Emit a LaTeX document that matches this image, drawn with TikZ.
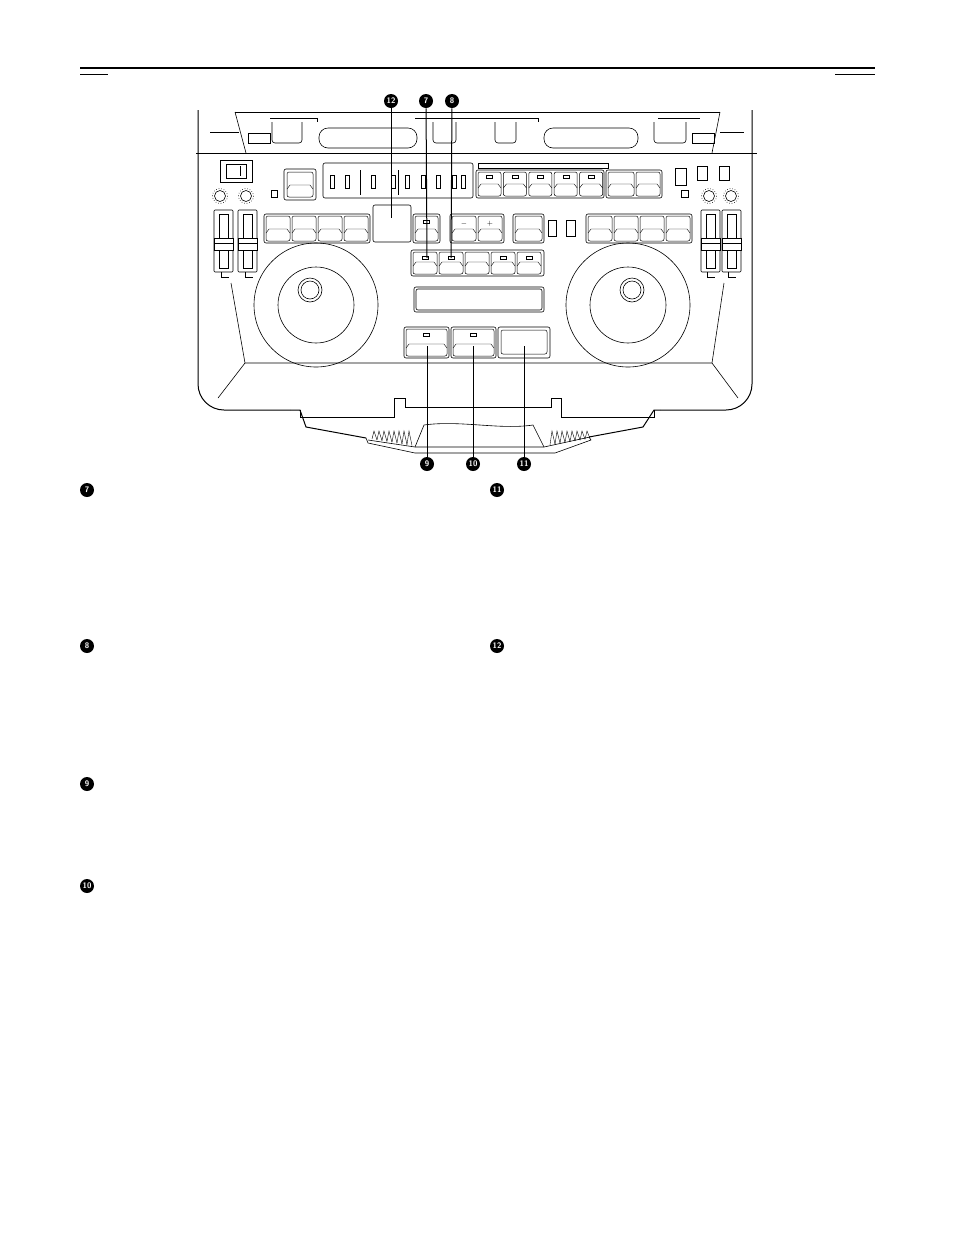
\documentclass[tikz,border=0pt]{standalone}
\usepackage{tikz}
\usetikzlibrary{positioning}
\tikzset{>=latex}
\tikzset{
  num/.style={circle,fill=black,text=white,inner sep=0pt,minimum size=14pt,font=\sffamily\bfseries\footnotesize},
  frame/.style={draw,rounded corners=2pt,line width=0.6pt},
  keycap/.style={draw,rounded corners=2pt,line width=0.5pt},
  led/.style={draw,line width=0.4pt},
  lead/.style={line width=1pt}
}
\newcommand{\keyat}[4]{% x1,y1,x2,y2
  \draw[keycap] (#1,#2) rectangle (#3,#4);
  \draw[line width=0.4pt] (#1,#4-8) -- (#1+3,#4-12) -- (#3-3,#4-12) -- (#3,#4-8);}
\newcommand{\ledat}[2]{\draw[led] (#1-3,#2-1.5) rectangle (#1+3,#2+1.5);}
\begin{document}
\begin{tikzpicture}[x=1pt,y=-1pt,line width=0.6pt]
  \useasboundingbox (0,0) rectangle (954,1235);
  % header rules
  \draw[line width=1.6pt] (80,68) -- (875,68);
  \draw (80,74) -- (108,74);
  \draw (835,74) -- (875,74);

  % case outline
  \draw[line width=1pt,rounded corners=26pt] (198,110) -- (198,410) -- (290,410);
  \draw[line width=1pt] (290,410) -- (300,410) -- (306,427) -- (366,438);
  \draw[line width=1pt,rounded corners=26pt] (752,110) -- (752,410) -- (660,410);
  \draw[line width=1pt] (660,410) -- (654,410) -- (643,427) -- (589,437);
  \draw (300,410) -- (300,417) -- (394,417) -- (394,398) -- (405,398) -- (405,407)
     -- (551,407) -- (551,398) -- (561,398) -- (561,417) -- (654,417) -- (654,410);
  % base plate
  \draw (366,438) -- (368,443) -- (415,453) -- (555,453) -- (591,440) -- (589,437);
  \draw (415,447) -- (424,425) .. controls (460,420) and (500,430) .. (533,425) -- (544,447);
  \draw (368,440) -- (415,447) -- (544,447) -- (590,437);
  \foreach \i in {0,...,7} {
    \draw[line width=0.4pt] (372+5*\i,439+\i*0.8) -- (374+5*\i,431) -- (377+5*\i,440+\i*0.8);
    \draw[line width=0.4pt] (550+5*\i,445-\i*0.8) -- (552+5*\i,431) -- (555+5*\i,444-\i*0.8);
  }

  % lid
  \draw (196,153) -- (757,153);
  \draw (235,112) -- (720,112);
  \draw (235,112) -- (246,153);
  \draw (720,112) -- (712,153);
  \draw (210,132) -- (239,132);
  \draw (720,132) -- (744,132);
  \draw (270,118) -- (317,118) -- (317,122);
  \draw (415,118) -- (538,118) -- (538,122);
  \draw (658,118) -- (700,118);
  \draw[rounded corners=9pt] (319,128) rectangle (417,148);
  \draw[rounded corners=9pt] (544,128) rectangle (638,148);
  \foreach \a/\b in {272/302,433/456,495/516,654/686}
    \draw[rounded corners=3pt] (\a,122) -- (\a,143) -- (\b,143) -- (\b,122);
  \draw (248,133) rectangle (270,143);
  \draw (692,133) rectangle (714,143);

  % power switch, lamps, knobs
  \draw (220,160) rectangle (252,182);
  \draw (226,164) rectangle (246,178);
  \draw (240,166) -- (240,176);
  \draw (271,190) rectangle (277,197);
  \draw (681,190) rectangle (688,197);
  \foreach \x in {220,246,709,731} {
    \draw (\x,196) circle (5.5);
    \draw[dotted] (\x,196) circle (7.5);
  }

  % top row
  \keyat{287}{172}{313}{197}
  \draw[frame] (284,169) rectangle (316,200);
  \draw[frame] (323,163) rectangle (473,198);
  \foreach \x in {330,345,371,391,405,421,436,452,461}
    \draw (\x,175) rectangle (\x+4,188);
  \draw (360,170) -- (360,195);
  \draw (398,170) -- (398,195);
  \draw (478,163) rectangle (608,168);
  \draw[frame] (476,170) rectangle (604,198);
  \foreach \i in {0,...,4} {
    \keyat{478+25.4*\i}{172}{501+25.4*\i}{196}
    \ledat{489.5+25.4*\i}{177}
  }
  \draw[frame] (606,170) rectangle (662,198);
  \keyat{608}{172}{634}{196}
  \keyat{636}{172}{660}{196}
  \draw (675,168) rectangle (686,185);
  \draw (697,166) rectangle (707,180);
  \draw (719,166) rectangle (729,180);

  % faders
  \foreach \x in {214,238,701,722} {
    \draw[rounded corners=1pt] (\x,210) rectangle (\x+19,272);
    \draw (\x+5,214) rectangle (\x+14,268);
    \draw[fill=white] (\x,238) rectangle (\x+19,250);
    \draw (\x,243) -- (\x+19,243);
  }
  \draw (221,272) -- (221,277) -- (229,277);
  \draw (245,272) -- (245,277) -- (253,277);
  \draw (707,272) -- (707,277) -- (715,277);
  \draw (728,272) -- (728,277) -- (736,277);

  % second row
  \draw[frame] (264,214) rectangle (370,243);
  \foreach \i in {0,...,3} {
    \keyat{266+26*\i}{216}{290+26*\i}{241}
  }
  \draw[frame] (373,205) rectangle (411,242);
  \draw[frame] (413,214) rectangle (440,243);
  \keyat{415}{216}{438}{241}
  \ledat{426.5}{222}
  \draw[frame] (450,214) rectangle (504,243);
  \keyat{452}{216}{476}{241}
  \keyat{478}{216}{502}{241}
  \node[font=\scriptsize] (minus) at (464,224) {$-$};
  \node[font=\scriptsize] (plus) at (490,224) {$+$};
  \draw[frame] (513,214) rectangle (544,243);
  \keyat{515}{216}{542}{241}
  \draw (548,220) rectangle (556,236);
  \draw (566,220) rectangle (575,236);
  \draw[frame] (586,214) rectangle (692,243);
  \foreach \i in {0,...,3} {
    \keyat{588+26*\i}{216}{612+26*\i}{241}
  }

  % third row
  \draw[frame] (411,250) rectangle (544,276);
  \foreach \i in {0,...,4} {
    \keyat{413+26*\i}{252}{437+26*\i}{274}
  }
  \foreach \i in {0,1,3,4} {
    \ledat{425+26*\i}{258}
  }

  % wheels
  \foreach \cx/\kx in {316/310,628/632} {
    \draw (\cx,305) circle (62);
    \draw (\cx,305) circle (38);
    \draw (\kx,290) circle (12);
    \draw (\kx,290) circle (9);
  }
  % panel lower border
  \draw (231,283) -- (245,363) -- (712,363) -- (724,283);
  \draw (245,363) -- (218,398);
  \draw (712,363) -- (738,398);

  % display and lower keys
  \draw[frame] (414,287) rectangle (544,312);
  \draw[frame] (416,289) rectangle (542,310);
  \draw[frame] (404,327) rectangle (449,358);
  \keyat{406}{329}{447}{356}
  \ledat{426.5}{335}
  \draw[frame] (451,327) rectangle (496,358);
  \keyat{453}{329}{494}{356}
  \ledat{473.5}{335}
  \draw[frame] (498,327) rectangle (550,358);
  \draw[keycap] (501,330) rectangle (547,354);

  % callouts
  \node[num] (n12) at (391,101) {12};
  \node[num] (n7) at (426,101) {7};
  \node[num] (n8) at (452,101) {8};
  \node[num] (n9) at (427,464) {9};
  \node[num] (n10) at (473,464) {10};
  \node[num] (n11) at (524,464) {11};
  \coordinate (p12) at (391,218);
  \coordinate (p7) at (427,258);
  \coordinate (p8) at (451,258);
  \coordinate (p9) at (427,346);
  \coordinate (p10) at (473,346);
  \coordinate (p11) at (524,346);
  \foreach \a/\b in {n12/p12,n7/p7,n8/p8,n9/p9,n10/p10,n11/p11}
    \draw[lead] (\a) -- (\b);

  % text headings
  \node[num] (h7) at (87,490) {7};
  \node[num] (h8) at (87,646) {8};
  \node[num] (h9) at (87,784) {9};
  \node[num] (h10) at (87,886) {10};
  \node[num] (h11) at (497,490) {11};
  \node[num] (h12) at (497,646) {12};
\end{tikzpicture}
\end{document}
